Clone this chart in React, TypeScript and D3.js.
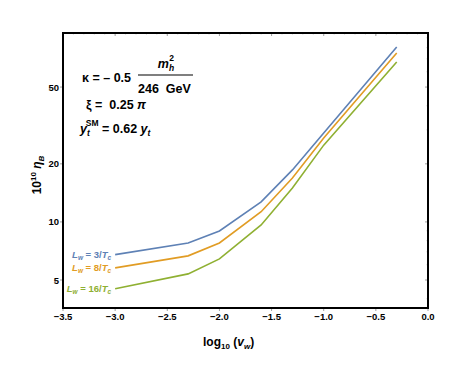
import React, { useEffect, useRef } from 'react';
import * as d3 from 'd3';

const logVw = [-3, -2.3, -2, -1.6, -1.3, -1, -0.3];
const eta3 = [6.77, 7.78, 8.98, 12.7, 18.6, 28.9, 80.6];
const eta8 = [5.78, 6.67, 7.78, 11.3, 16.9, 27.2, 75.0];
const eta16 = [4.5, 5.38, 6.43, 9.65, 15.0, 25.0, 67.4];
const seriesNames = ['3', '8', '16'];
const seriesColors = ['#5E81B5', '#E19C24', '#8FB032'];
const xTicks = [-3.5, -3, -2.5, -2, -1.5, -1, -0.5, 0];
const yTicks = [5, 10, 20, 50];
const yMinor = [4, 6, 7, 8, 9, 30, 40, 60, 70, 80, 90];

const App = () => {
  const svgRef = useRef<SVGSVGElement>(null);

  useEffect(() => {
    const W = 463;
    const H = 372;
    const margin = { top: 33, right: 35, bottom: 64, left: 63 };
    const width = W - margin.left - margin.right;
    const height = H - margin.top - margin.bottom;
    const font = '"Liberation Sans", Arial, sans-serif';

    const svgEl = d3.select(svgRef.current);
    svgEl.selectAll('*').remove();
    svgEl.attr('width', W).attr('height', H).style('font-family', font);

    const svg = svgEl.append('g').attr('transform', `translate(${margin.left},${margin.top})`);

    const x = d3.scaleLinear().domain([-3.5, 0]).range([0, width]);
    const y = d3.scaleLog().domain([3.58, 95.3]).range([height, 0]);

    // ticks
    const tickG = svg.append('g').attr('stroke', '#888').attr('stroke-width', 0.8);
    xTicks.forEach(t => {
      tickG.append('line').attr('x1', x(t)).attr('x2', x(t)).attr('y1', height).attr('y2', height + 3);
      tickG.append('line').attr('x1', x(t)).attr('x2', x(t)).attr('y1', 0).attr('y2', 3);
    });
    d3.range(-3.4, 0, 0.1).forEach(t => {
      tickG.append('line').attr('x1', x(t)).attr('x2', x(t)).attr('y1', 0).attr('y2', 1.5).attr('stroke', '#bbb');
    });
    yTicks.forEach(t => {
      tickG.append('line').attr('x1', -3).attr('x2', 0).attr('y1', y(t)).attr('y2', y(t));
      tickG.append('line').attr('x1', width).attr('x2', width - 3).attr('y1', y(t)).attr('y2', y(t));
    });
    yMinor.forEach(t => {
      tickG.append('line').attr('x1', width).attr('x2', width - 1.5).attr('y1', y(t)).attr('y2', y(t)).attr('stroke', '#bbb');
    });

    svg.append('g').selectAll('text').data(xTicks).enter().append('text')
      .attr('x', d => x(d)).attr('y', height + 12)
      .attr('text-anchor', 'middle')
      .style('font-size', '9.5px').style('font-weight', 'bold')
      .text(d => d3.format('.1f')(d).replace('-', '\u2212'));

    svg.append('g').selectAll('text').data(yTicks).enter().append('text')
      .attr('x', -4).attr('y', d => y(d) + 3.5)
      .attr('text-anchor', 'end')
      .style('font-size', '9.5px').style('font-weight', 'bold')
      .text(d => d);

    // lines
    const allSeries = [eta3, eta8, eta16];
    const lineGen = d3.line<number>().x((_, i) => x(logVw[i])).y(d => y(d));
    allSeries.forEach((s, i) => {
      svg.append('path')
        .datum(s)
        .attr('fill', 'none')
        .attr('stroke', seriesColors[i])
        .attr('stroke-width', 1.6)
        .attr('d', lineGen);

      const lab = svg.append('text')
        .attr('x', x(logVw[0]) - 4)
        .attr('y', y(s[0]) + 3.5)
        .attr('text-anchor', 'end')
        .attr('fill', seriesColors[i])
        .style('font-size', '9.5px').style('font-weight', 'bold');
      lab.append('tspan').style('font-style', 'italic').text('L');
      lab.append('tspan').attr('dy', 2).style('font-size', '6.5px').style('font-style', 'italic').text('w');
      lab.append('tspan').attr('dy', -2).text(` = ${seriesNames[i]}/`);
      lab.append('tspan').style('font-style', 'italic').text('T');
      lab.append('tspan').attr('dy', 2).style('font-size', '6.5px').style('font-style', 'italic').text('c');
    });

    // frame
    svg.append('rect')
      .attr('width', width).attr('height', height)
      .attr('fill', 'none').attr('stroke', '#000').attr('stroke-width', 2);

    // annotations
    const ann = svgEl.append('g').style('font-size', '12.5px').style('font-weight', 'bold');
    ann.append('text').attr('x', 82).attr('y', 82).text('\u03BA = \u2013 0.5');
    const m = ann.append('text').attr('x', 166).attr('y', 68).attr('text-anchor', 'middle');
    m.append('tspan').style('font-style', 'italic').text('m');
    m.append('tspan').attr('dy', 3).style('font-size', '8.5px').style('font-style', 'italic').text('h');
    m.append('tspan').attr('dy', -10).attr('dx', -5).style('font-size', '8.5px').text('2');
    ann.append('line').attr('x1', 138).attr('x2', 193).attr('y1', 75).attr('y2', 75)
      .attr('stroke', '#000').attr('stroke-width', 1.2);
    ann.append('text').attr('x', 138).attr('y', 93).text('246\u00A0\u00A0GeV');
    ann.append('text').attr('x', 86).attr('y', 109).text('\u03BE =\u00A0\u00A00.25 ').append('tspan').style('font-style', 'italic').text('\u03C0');
    const yt = ann.append('text').attr('x', 80).attr('y', 133);
    yt.append('tspan').style('font-style', 'italic').text('y');
    yt.append('tspan').attr('dy', 3).style('font-size', '8.5px').style('font-style', 'italic').text('t');
    yt.append('tspan').attr('dy', -10).attr('dx', -4).style('font-size', '8.5px').text('SM');
    yt.append('tspan').attr('dy', 7).text(' = 0.62 ');
    yt.append('tspan').style('font-style', 'italic').text('y');
    yt.append('tspan').attr('dy', 3).style('font-size', '8.5px').style('font-style', 'italic').text('t');

    // axis labels
    const xl = svgEl.append('text').attr('x', 203).attr('y', 346)
      .style('font-size', '12px').style('font-weight', 'bold');
    xl.append('tspan').text('log');
    xl.append('tspan').attr('dy', 3).style('font-size', '8px').text('10');
    xl.append('tspan').attr('dy', -3).text(' (');
    xl.append('tspan').style('font-style', 'italic').text('v');
    xl.append('tspan').attr('dy', 3).style('font-size', '8px').style('font-style', 'italic').text('w');
    xl.append('tspan').attr('dy', -3).text(')');

    const yl = svgEl.append('text')
      .attr('transform', 'translate(41,175) rotate(-90)')
      .attr('text-anchor', 'middle')
      .style('font-size', '12px').style('font-weight', 'bold');
    yl.append('tspan').text('10');
    yl.append('tspan').attr('dy', -5).style('font-size', '8px').text('10');
    yl.append('tspan').attr('dy', 5).style('font-style', 'italic').text(' \u03B7');
    yl.append('tspan').attr('dy', 3).style('font-size', '8px').style('font-style', 'italic').text('B');
  }, []);

  return <svg ref={svgRef} style={{ position: 'absolute', left: 0, top: 0 }}></svg>;
};

export default App;
